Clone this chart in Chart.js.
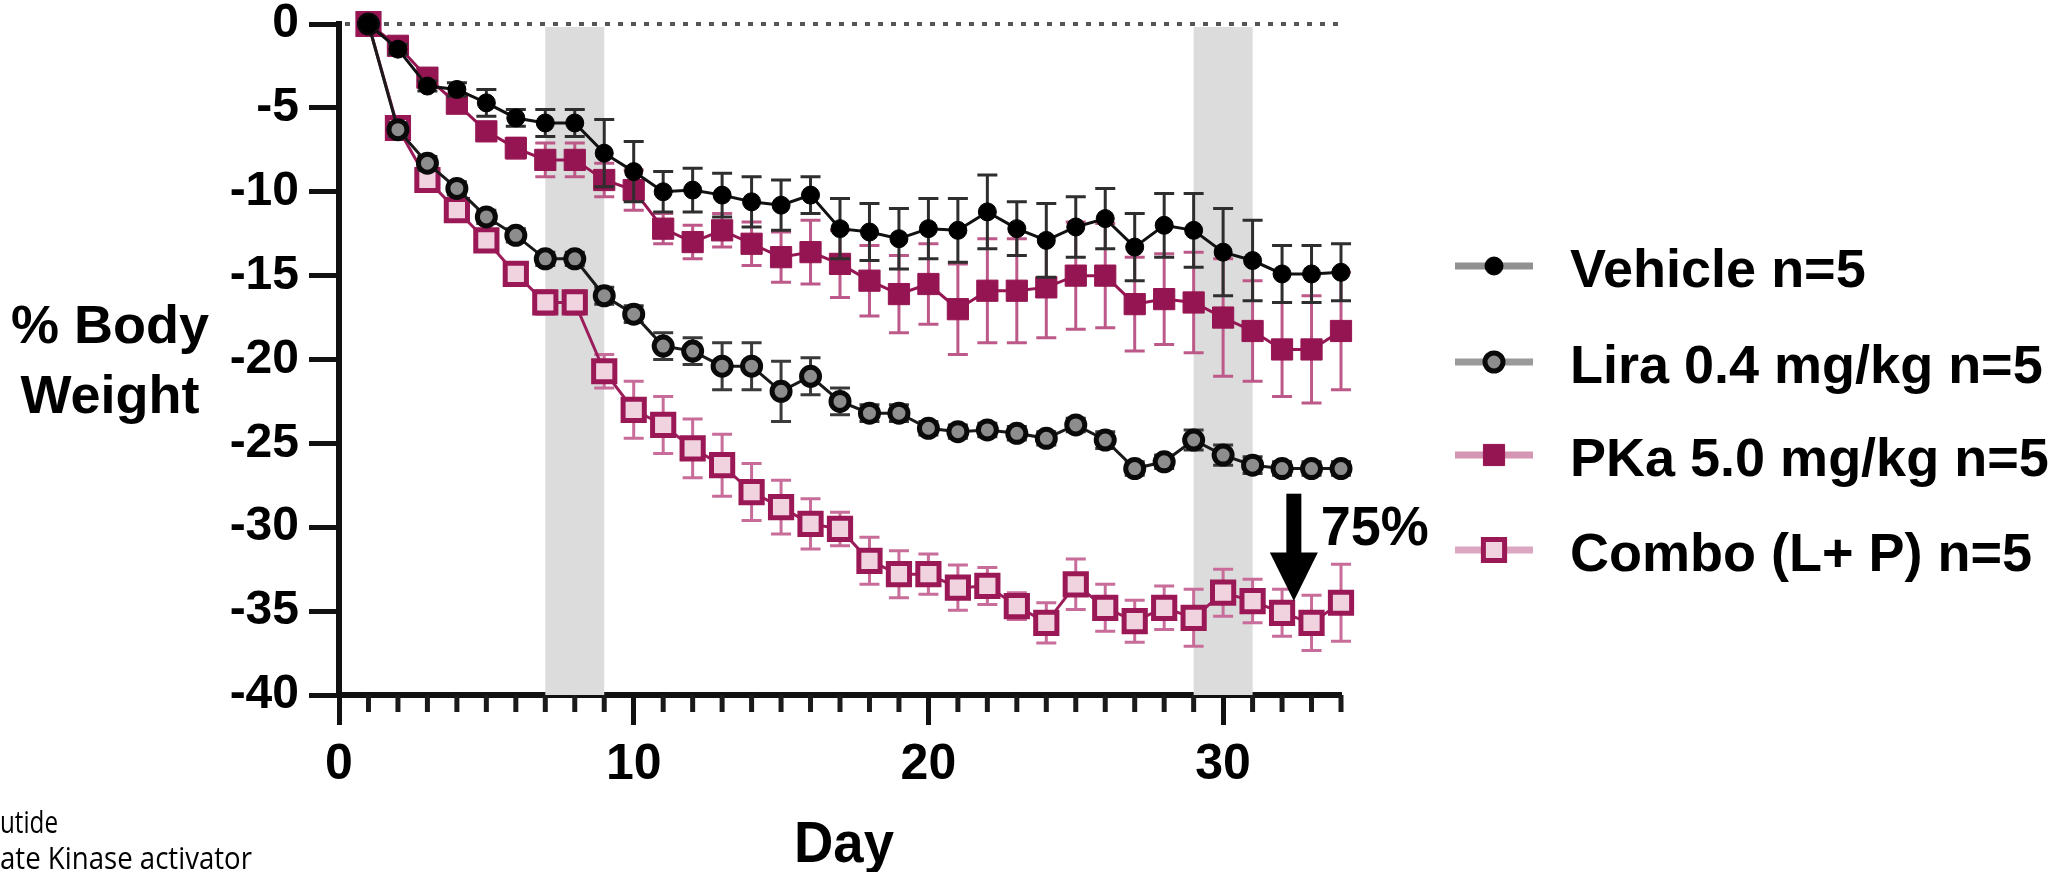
<!DOCTYPE html>
<html>
<head>
<meta charset="utf-8">
<script src="https://cdn.jsdelivr.net/npm/chart.js@4.4.1/dist/chart.umd.min.js"></script>
<style>
  html, body { margin: 0; padding: 0; background: #fff; }
  #wrap { position: relative; width: 2062px; height: 872px; overflow: hidden; }
</style>
</head>
<body>
<div id="wrap"><canvas id="bwChart" width="2062" height="872"></canvas></div>
<script>
// Jours de l'étude
const days = [1, 2, 3, 4, 5, 6, 7, 8, 9, 10, 11, 12, 13, 14, 15, 16, 17,
              18, 19, 20, 21, 22, 23, 24, 25, 26, 27, 28, 29, 30, 31, 32, 33, 34];

// Moyennes (% poids corporel) et SEM
const vehicleMean = [0, -1.5, -3.7, -3.9, -4.7, -5.6, -5.9, -5.9, -7.7, -8.8, -10.0, -9.9, -10.2, -10.6, -10.8, -10.2, -12.2,
                     -12.4, -12.8, -12.2, -12.3, -11.2, -12.2, -12.9, -12.1, -11.6, -13.3, -12.0, -12.3, -13.6, -14.1, -14.9, -14.9, -14.8];
const vehicleSem  = [0, 0.3, 0.3, 0.4, 0.8, 0.5, 0.8, 0.8, 2.0, 1.8, 1.2, 1.3, 1.3, 1.5, 1.5, 1.1, 1.8,
                     1.7, 1.8, 1.8, 1.9, 2.2, 1.6, 2.2, 1.8, 1.8, 2.0, 1.9, 2.2, 2.6, 2.4, 1.7, 1.7, 1.7];

const liraMean = [0, -6.3, -8.3, -9.8, -11.5, -12.6, -14.0, -14.0, -16.2, -17.3, -19.2, -19.5, -20.4, -20.4, -21.9, -21.0, -22.5,
                  -23.2, -23.2, -24.1, -24.3, -24.2, -24.4, -24.7, -23.9, -24.8, -26.5, -26.1, -24.8, -25.7, -26.3, -26.5, -26.5, -26.5];
const liraSem  = [0, 0.4, 0.4, 0.4, 0.4, 0.4, 0.4, 0.4, 0.5, 0.5, 0.8, 0.8, 1.4, 1.4, 1.8, 1.1, 0.8,
                  0.5, 0.5, 0.4, 0.4, 0.4, 0.4, 0.4, 0.4, 0.5, 0.4, 0.4, 0.6, 0.6, 0.5, 0.4, 0.4, 0.4];

const pkaMean = [0, -1.3, -3.2, -4.75, -6.4, -7.4, -8.1, -8.1, -9.3, -9.9, -12.2, -13.0, -12.3, -13.1, -13.9, -13.6, -14.3,
                 -15.3, -16.1, -15.5, -17.0, -15.9, -15.9, -15.7, -15.0, -15.0, -16.7, -16.4, -16.6, -17.5, -18.3, -19.4, -19.4, -18.3];
const pkaSem  = [0, 0.3, 0.4, 0.4, 0.5, 0.6, 1.0, 1.0, 1.0, 1.2, 0.9, 1.0, 1.0, 1.3, 1.5, 1.9, 2.0,
                 2.1, 2.3, 2.4, 2.7, 3.1, 3.1, 3.0, 3.2, 3.1, 2.8, 2.7, 3.0, 3.5, 3.0, 2.8, 3.2, 3.5];

const comboMean = [0, -6.2, -9.3, -11.1, -12.9, -14.9, -16.6, -16.6, -20.7, -23.0, -23.9, -25.3, -26.3, -27.9, -28.8, -29.8, -30.1,
                   -32.0, -32.8, -32.8, -33.6, -33.5, -34.7, -35.7, -33.4, -34.8, -35.6, -34.8, -35.4, -33.9, -34.4, -35.1, -35.7, -34.5];
const comboSem  = [0, 0.4, 0.5, 0.5, 0.6, 0.6, 0.7, 0.7, 1.0, 1.7, 1.7, 1.75, 1.85, 1.7, 1.6, 1.5, 1.0,
                   1.4, 1.4, 1.2, 1.35, 1.1, 0.8, 1.2, 1.5, 1.4, 1.25, 1.3, 1.7, 1.4, 1.3, 1.4, 1.65, 2.3];

const seriesLabels = ['Vehicle n=5', 'Lira 0.4 mg/kg n=5', 'PKa 5.0 mg/kg n=5', 'Combo (L+ P) n=5'];
const xTicks = [0, 10, 20, 30];
const yTicks = [0, -5, -10, -15, -20, -25, -30, -35, -40];

// Périodes grisées (jours) et flèche annotée
const shadedDays = [[7, 9], [29, 31]];
const arrowDay = 32.4;
const arrowFrom = -28.0, arrowHeadAt = -31.5, arrowTo = -34.4;
const arrowText = '75%';
const sideNotes = ['utide', 'ate Kinase activator'];

const FONT = "'Liberation Sans', Arial, sans-serif";
const toPts = vals => days.map((d, i) => ({ x: d, y: vals[i] }));

// Fond : bandes grises + ligne pointillée à 0
const backdropPlugin = {
  id: 'backdrop',
  beforeDatasetsDraw(chart) {
    const { ctx, scales: { x, y } } = chart;
    ctx.save();
    ctx.fillStyle = '#dcdcdc';
    shadedDays.forEach(([a, b]) => {
      const x1 = x.getPixelForValue(a), x2 = x.getPixelForValue(b);
      const y1 = y.getPixelForValue(0), y2 = y.getPixelForValue(-40);
      ctx.fillRect(x1, y1 + 3, x2 - x1, y2 - y1 - 3);
    });
    ctx.strokeStyle = '#555';
    ctx.lineWidth = 4;
    ctx.setLineDash([5, 8]);
    ctx.beginPath();
    ctx.moveTo(x.getPixelForValue(0) + 6, y.getPixelForValue(0));
    ctx.lineTo(x.getPixelForValue(34), y.getPixelForValue(0));
    ctx.stroke();
    ctx.restore();
  }
};

// Barres d'erreur (SEM), dessinées sous chaque série
const errorBarPlugin = {
  id: 'errorBars',
  beforeDatasetDraw(chart, args) {
    const ds = chart.data.datasets[args.index];
    if (!ds.errors) return;
    const { ctx, scales: { x, y } } = chart;
    ctx.save();
    ctx.strokeStyle = ds.errorColor;
    ctx.lineWidth = 3;
    ds.data.forEach((p, i) => {
      const e = ds.errors[i];
      if (!e) return;
      const px = x.getPixelForValue(p.x);
      const top = y.getPixelForValue(p.y + e), bot = y.getPixelForValue(p.y - e);
      ctx.beginPath();
      ctx.moveTo(px, top); ctx.lineTo(px, bot);
      ctx.moveTo(px - 10, top); ctx.lineTo(px + 10, top);
      ctx.moveTo(px - 10, bot); ctx.lineTo(px + 10, bot);
      ctx.stroke();
    });
    ctx.restore();
  }
};

function drawMarker(ctx, ds, cx, cy) {
  ctx.save();
  ctx.fillStyle = ds.pointBackgroundColor;
  ctx.strokeStyle = ds.pointBorderColor;
  ctx.lineWidth = ds.pointBorderWidth;
  ctx.beginPath();
  if (ds.pointStyle === 'rect') {
    const h = Math.SQRT1_2 * ds.pointRadius;
    ctx.rect(cx - h, cy - h, 2 * h, 2 * h);
  } else {
    ctx.arc(cx, cy, ds.pointRadius, 0, Math.PI * 2);
  }
  ctx.fill();
  ctx.stroke();
  ctx.restore();
}

// Flèche, légende, titres et notes
const overlayPlugin = {
  id: 'overlay',
  afterDatasetsDraw(chart) {
    const { ctx, scales: { x, y } } = chart;
    const ax = x.getPixelForValue(arrowDay);
    const yTop = y.getPixelForValue(arrowFrom);
    const yHead = y.getPixelForValue(arrowHeadAt);
    const yTip = y.getPixelForValue(arrowTo);
    ctx.save();
    ctx.fillStyle = '#000';
    ctx.fillRect(ax - 7.5, yTop, 15, yHead - yTop + 1);
    ctx.beginPath();
    ctx.moveTo(ax - 24, yHead);
    ctx.lineTo(ax + 24, yHead);
    ctx.lineTo(ax, yTip);
    ctx.closePath();
    ctx.fill();
    ctx.font = 'bold 56px ' + FONT;
    ctx.textBaseline = 'alphabetic';
    ctx.fillText(arrowText, ax + 27, 545, 108);
    ctx.restore();
  },
  afterDraw(chart) {
    const { ctx, scales: { x } } = chart;
    ctx.save();
    // petites graduations de l'axe X (chaque jour)
    ctx.strokeStyle = '#1a1a1a';
    ctx.lineWidth = 5;
    const yAxis = chart.chartArea.bottom;
    for (let d = 1; d <= 34; d++) {
      if (d % 10 === 0) continue;
      const px = x.getPixelForValue(d);
      ctx.beginPath();
      ctx.moveTo(px, yAxis);
      ctx.lineTo(px, yAxis + 17);
      ctx.stroke();
    }

    // titre axe Y (horizontal, deux lignes)
    ctx.fillStyle = '#000';
    ctx.font = 'bold 54px ' + FONT;
    ctx.textAlign = 'center';
    ctx.textBaseline = 'alphabetic';
    ctx.fillText('% Body', 110, 343);
    ctx.fillText('Weight', 110, 413);

    // titre axe X
    ctx.font = 'bold 57px ' + FONT;
    ctx.fillText('Day', 844, 862, 100);

    // légende
    const rows = [266, 362, 455, 550];
    chart.data.datasets.forEach((ds, i) => {
      const ry = rows[i];
      ctx.strokeStyle = ds.legendLine;
      ctx.lineWidth = 7;
      ctx.beginPath();
      ctx.moveTo(1455, ry); ctx.lineTo(1533, ry);
      ctx.stroke();
      drawMarker(ctx, ds, 1494, ry);
      ctx.fillStyle = '#000';
      ctx.font = 'bold 54px ' + FONT;
      ctx.textAlign = 'left';
      ctx.fillText(seriesLabels[i], 1570, ry + 21);
    });

    // notes coupées en bas à gauche
    ctx.font = "31px 'Open Sans', sans-serif";
    ctx.textAlign = 'left';
    ctx.fillText(sideNotes[0], 0, 833, 58);
    ctx.fillText(sideNotes[1], 0, 869, 252);
    ctx.restore();
  }
};

const ctx = document.getElementById('bwChart').getContext('2d');
new Chart(ctx, {
  type: 'line',
  data: {
    datasets: [
      {
        label: seriesLabels[0], data: toPts(vehicleMean), errors: vehicleSem,
        errorColor: '#2e2e2e', legendLine: '#919191',
        borderColor: '#111', borderWidth: 3,
        pointStyle: 'circle', pointRadius: 9, pointBorderWidth: 1,
        pointBackgroundColor: '#000', pointBorderColor: '#000'
      },
      {
        label: seriesLabels[1], data: toPts(liraMean), errors: liraSem,
        errorColor: '#3a3a3a', legendLine: '#9a9a9a',
        borderColor: '#1a1a1a', borderWidth: 3,
        pointStyle: 'circle', pointRadius: 9, pointBorderWidth: 5,
        pointBackgroundColor: '#8d8d8d', pointBorderColor: '#0a0a0a'
      },
      {
        label: seriesLabels[2], data: toPts(pkaMean), errors: pkaSem,
        errorColor: '#bd5989', legendLine: '#d596b4',
        borderColor: '#951552', borderWidth: 3,
        pointStyle: 'rect', pointRadius: 15, pointBorderWidth: 1,
        pointBackgroundColor: '#951552', pointBorderColor: '#951552'
      },
      {
        label: seriesLabels[3], data: toPts(comboMean), errors: comboSem,
        errorColor: '#c86d99', legendLine: '#dba6bf',
        borderColor: '#9b1d5c', borderWidth: 3,
        pointStyle: 'rect', pointRadius: 15, pointBorderWidth: 5,
        pointBackgroundColor: '#f1d3e0', pointBorderColor: '#9b1857'
      }
    ]
  },
  options: {
    responsive: false,
    animation: false,
    clip: false,
    layout: { padding: { top: 24, right: 721, left: 0, bottom: 0 } },
    plugins: { legend: { display: false }, tooltip: { enabled: false } },
    elements: { line: { tension: 0 } },
    scales: {
      x: {
        type: 'linear', min: 0, max: 34,
        afterFit: s => { s.height = 872 - 695; },
        border: { display: true, color: '#111', width: 6 },
        grid: {
          drawOnChartArea: false, drawTicks: true, tickLength: 30, tickWidth: 5,
          tickColor: c => (c.tick && c.tick.value % 10 === 0) ? '#111' : 'rgba(0,0,0,0)'
        },
        ticks: {
          stepSize: 1, autoSkip: false, maxRotation: 0, padding: 10, color: '#000',
          font: { family: FONT, size: 50, weight: 'bold' },
          callback: v => xTicks.includes(v) ? String(v) : ''
        }
      },
      y: {
        min: -40, max: 0,
        afterFit: s => { s.width = 339; },
        border: { display: true, color: '#111', width: 6 },
        grid: { drawOnChartArea: false, drawTicks: true, tickLength: 30, tickWidth: 5, tickColor: '#111' },
        ticks: {
          stepSize: 5, padding: 10, color: '#000',
          font: { family: FONT, size: 48, weight: 'bold', lineHeight: 0.5 },
          callback: v => yTicks.includes(v) ? String(v) : ''
        }
      }
    }
  },
  plugins: [backdropPlugin, errorBarPlugin, overlayPlugin]
});
</script>
</body>
</html>
